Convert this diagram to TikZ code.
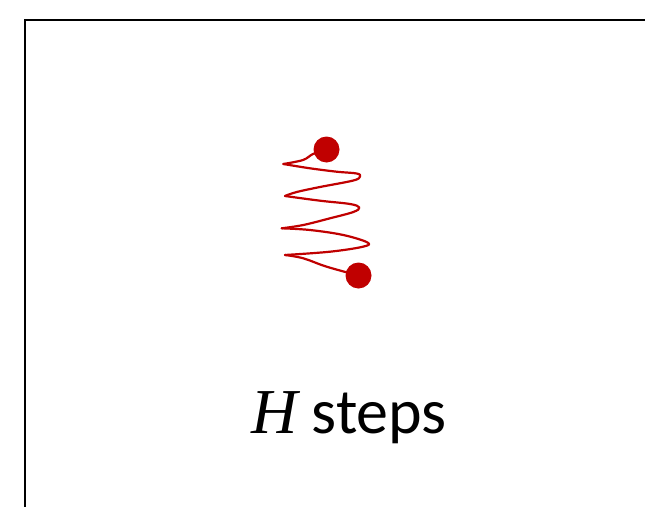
\documentclass[tikz,border=0pt]{standalone}
\usepackage{fontspec}
\setmainfont{Carlito}
\newfontfamily\mathitfont{Liberation Serif}
\definecolor{dotred}{HTML}{C00000}
\begin{document}
\begin{tikzpicture}[x=1pt,y=-1pt,
  frame/.style={line width=2pt,black},
  dotnode/.style={circle,fill=dotred,inner sep=0pt,minimum size=26pt},
  spring/.style={draw=dotred,line width=2.2pt,line join=round,line cap=round},
  label/.style={font=\fontsize{64}{76}\selectfont,anchor=base,inner sep=0pt}]
\useasboundingbox (0,0) rectangle (645,506);
\draw[frame] (25,507) -- (25,20) -- (646,20);
\node[dotnode] (top) at (326.5,149.5) {};
\node[dotnode] (bot) at (358.5,275.5) {};
\draw[spring] plot[smooth,tension=0.6] coordinates {(top) (313,154) (303,160) (283.3,164)};
\draw[spring] plot[smooth,tension=0.6] coordinates {(283.3,164) (310,168.3) (336.7,171.7) (356.7,173.5) (360,176.5) (353.3,180.5) (320,187) (296.7,192) (285,196)};
\draw[spring] plot[smooth,tension=0.6] coordinates {(285,196) (320,200.7) (350,204) (359.3,207.5) (353.3,212) (330,218.3) (303.3,225) (281.7,228.3)};
\draw[spring] plot[smooth,tension=0.6] coordinates {(281.7,228.3) (310,230) (343.3,235) (367.5,242.5) (363,246.7) (330,251.7) (285,255)};
\draw[spring] plot[smooth,tension=0.6] coordinates {(285,255) (303.3,258.3) (326.7,266.7) (bot)};
\node[label] (cap) at (349,433) {{\mathitfont\itshape H} steps};
\end{tikzpicture}
\end{document}
